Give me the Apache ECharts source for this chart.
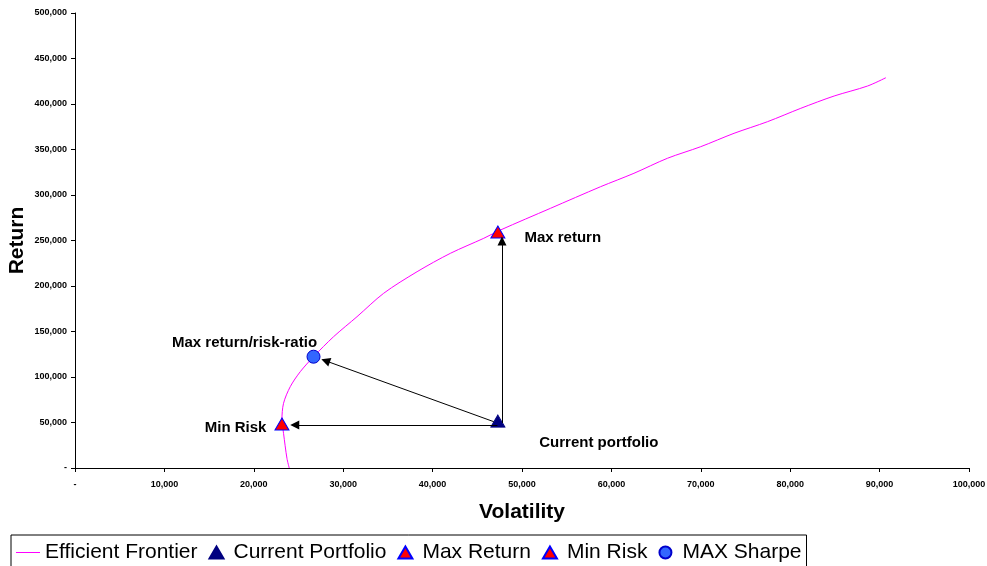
<!DOCTYPE html>
<html><head><meta charset="utf-8">
<script src="https://cdn.jsdelivr.net/npm/echarts@6/dist/echarts.min.js"></script>
<style>html,body{margin:0;padding:0;background:#fff}#c{width:987px;height:566px}</style>
</head><body><div id="c"></div>
<script>
// Efficient frontier (volatility, return)
const frontierVol = [23964, 23707, 23326, 23147, 23326, 24076, 25196, 26685, 28925, 31545, 34524, 38264, 41993, 45722, 47592, 53191, 58791, 62520, 66260, 69989, 73718, 77458, 81187, 84916, 88656, 90705];
const frontierRet = [0, 10659, 38132, 52747, 71099, 89341, 105824, 122308, 144286, 166264, 191978, 215714, 235934, 252418, 261538, 285385, 309121, 323846, 340330, 353077, 367802, 380549, 395275, 408791, 419780, 428901];
// Portfolios
const currentPortfolio = [47300, 51500];
const maxReturn = [47300, 259300];
const minRisk = [23150, 48300];
const maxSharpe = [26680, 122300];
// Arrows (from current portfolio to the optimal portfolios)
const arrowFrom = [[47250, 47250], [47760, 49500], [46840, 50900]];
const arrowTo   = [[24580, 47250], [47760, 249400], [28030, 117800]];
// Axes
const xMin = 0, xMax = 100000, xStep = 10000;
const yMin = 0, yMax = 500000, yStep = 50000;
const seriesNames = ['Efficient Frontier', 'Current Portfolio', 'Max Return', 'Min Risk', 'MAX Sharpe'];
const annotations = ['Current portfolio', 'Max return', 'Min Risk', 'Max return/risk-ratio'];

const FONT = '"Liberation Sans", Arial, sans-serif';
const fmt = v => v === 0 ? '-' : v.toLocaleString('en-US');
const annStyle = {show: true, color: '#000', opacity: 1, fontFamily: FONT, fontWeight: 'bold', fontSize: 15};
const triPath = 'path://M7,0L14,12L0,12Z';
const circPath = 'path://M0,6a6,6 0 1,0 12,0a6,6 0 1,0 -12,0z';
const linePath = 'path://M0,5.5L24,5.5L24,6.5L0,6.5Z';

const chart = echarts.init(document.getElementById('c'), null, {renderer: 'canvas'});
chart.setOption({
  animation: false,
  backgroundColor: '#fff',
  grid: {left: 75, right: 18, top: 13, bottom: 98, containLabel: false, outerBoundsMode: 'none'},
  xAxis: {
    type: 'value', min: xMin, max: xMax, interval: xStep,
    name: 'Volatility', nameLocation: 'middle', nameGap: 34,
    nameTextStyle: {fontFamily: FONT, fontWeight: 'bold', fontSize: 21, color: '#000'},
    axisLine: {show: true, lineStyle: {color: '#000', width: 1}},
    axisTick: {show: true, length: 4, lineStyle: {color: '#000'}},
    axisLabel: {formatter: fmt, fontFamily: FONT, fontWeight: 'bold', fontSize: 9, color: '#000', margin: 12},
    splitLine: {show: false}
  },
  yAxis: {
    type: 'value', min: yMin, max: yMax, interval: yStep,
    name: 'Return', nameLocation: 'middle', nameGap: 47, nameMoveOverlap: false,
    nameTextStyle: {fontFamily: FONT, fontWeight: 'bold', fontSize: 21, color: '#000'},
    axisLine: {show: true, lineStyle: {color: '#000', width: 1}},
    axisTick: {show: true, length: 4, lineStyle: {color: '#000'}},
    axisLabel: {formatter: fmt, fontFamily: FONT, fontWeight: 'bold', fontSize: 9, color: '#000', margin: 8},
    splitLine: {show: false}
  },
  legend: {
    data: [
      {name: seriesNames[0], icon: linePath},
      {name: seriesNames[1], icon: triPath},
      {name: seriesNames[2], icon: triPath},
      {name: seriesNames[3], icon: triPath},
      {name: seriesNames[4], icon: circPath}
    ],
    left: 11, top: 535, orient: 'horizontal',
    itemWidth: 24, itemHeight: 12, itemGap: 11,
    padding: [7, 5, 12, 5],
    borderColor: '#000', borderWidth: 1, borderRadius: 0,
    textStyle: {fontFamily: FONT, fontSize: 21, color: '#000'},
    selectedMode: false
  },
  series: [
    {
      name: seriesNames[0], type: 'line', symbol: 'none', showSymbol: false, smooth: 0.3, z: 1,
      lineStyle: {color: '#FF00FF', width: 1}, itemStyle: {color: '#FF00FF'},
      data: frontierVol.map((v, i) => [v, frontierRet[i]])
    },
    {
      name: seriesNames[1], type: 'scatter', symbol: 'triangle', symbolSize: [14, 12], z: 4,
      itemStyle: {color: '#000080', borderColor: '#000080', borderWidth: 1, opacity: 1},
      label: Object.assign({}, annStyle, {position: 'bottom', offset: [101, 3], formatter: annotations[0]}),
      data: [currentPortfolio],
      markLine: {
        silent: true, symbol: ['none', 'triangle'], symbolSize: 9, precision: 0,
        label: {show: false},
        lineStyle: {color: '#000', width: 1, type: 'solid', opacity: 1},
        itemStyle: {color: '#000'},
        emphasis: {disabled: true},
        data: arrowFrom.map((f, i) => [{coord: f}, {coord: arrowTo[i]}])
      }
    },
    {
      name: seriesNames[2], type: 'scatter', symbol: 'triangle', symbolSize: [14, 12], z: 4,
      itemStyle: {color: '#FF0000', borderColor: '#0000FF', borderWidth: 1, opacity: 1},
      label: Object.assign({}, annStyle, {position: 'right', distance: 19, offset: [0, 6], formatter: annotations[1]}),
      data: [maxReturn]
    },
    {
      name: seriesNames[3], type: 'scatter', symbol: 'triangle', symbolSize: [14, 12], z: 4,
      itemStyle: {color: '#FF0000', borderColor: '#0000FF', borderWidth: 1, opacity: 1},
      label: Object.assign({}, annStyle, {position: 'left', distance: 8, offset: [0, 4], formatter: annotations[2]}),
      data: [minRisk]
    },
    {
      name: seriesNames[4], type: 'scatter', symbol: 'circle', symbolSize: 13, z: 4,
      itemStyle: {color: '#3366FF', borderColor: '#0000CC', borderWidth: 1, opacity: 1},
      label: Object.assign({}, annStyle, {position: 'top', distance: 3, offset: [-69, 4], formatter: annotations[3]}),
      data: [maxSharpe]
    }
  ]
});
</script></body></html>
